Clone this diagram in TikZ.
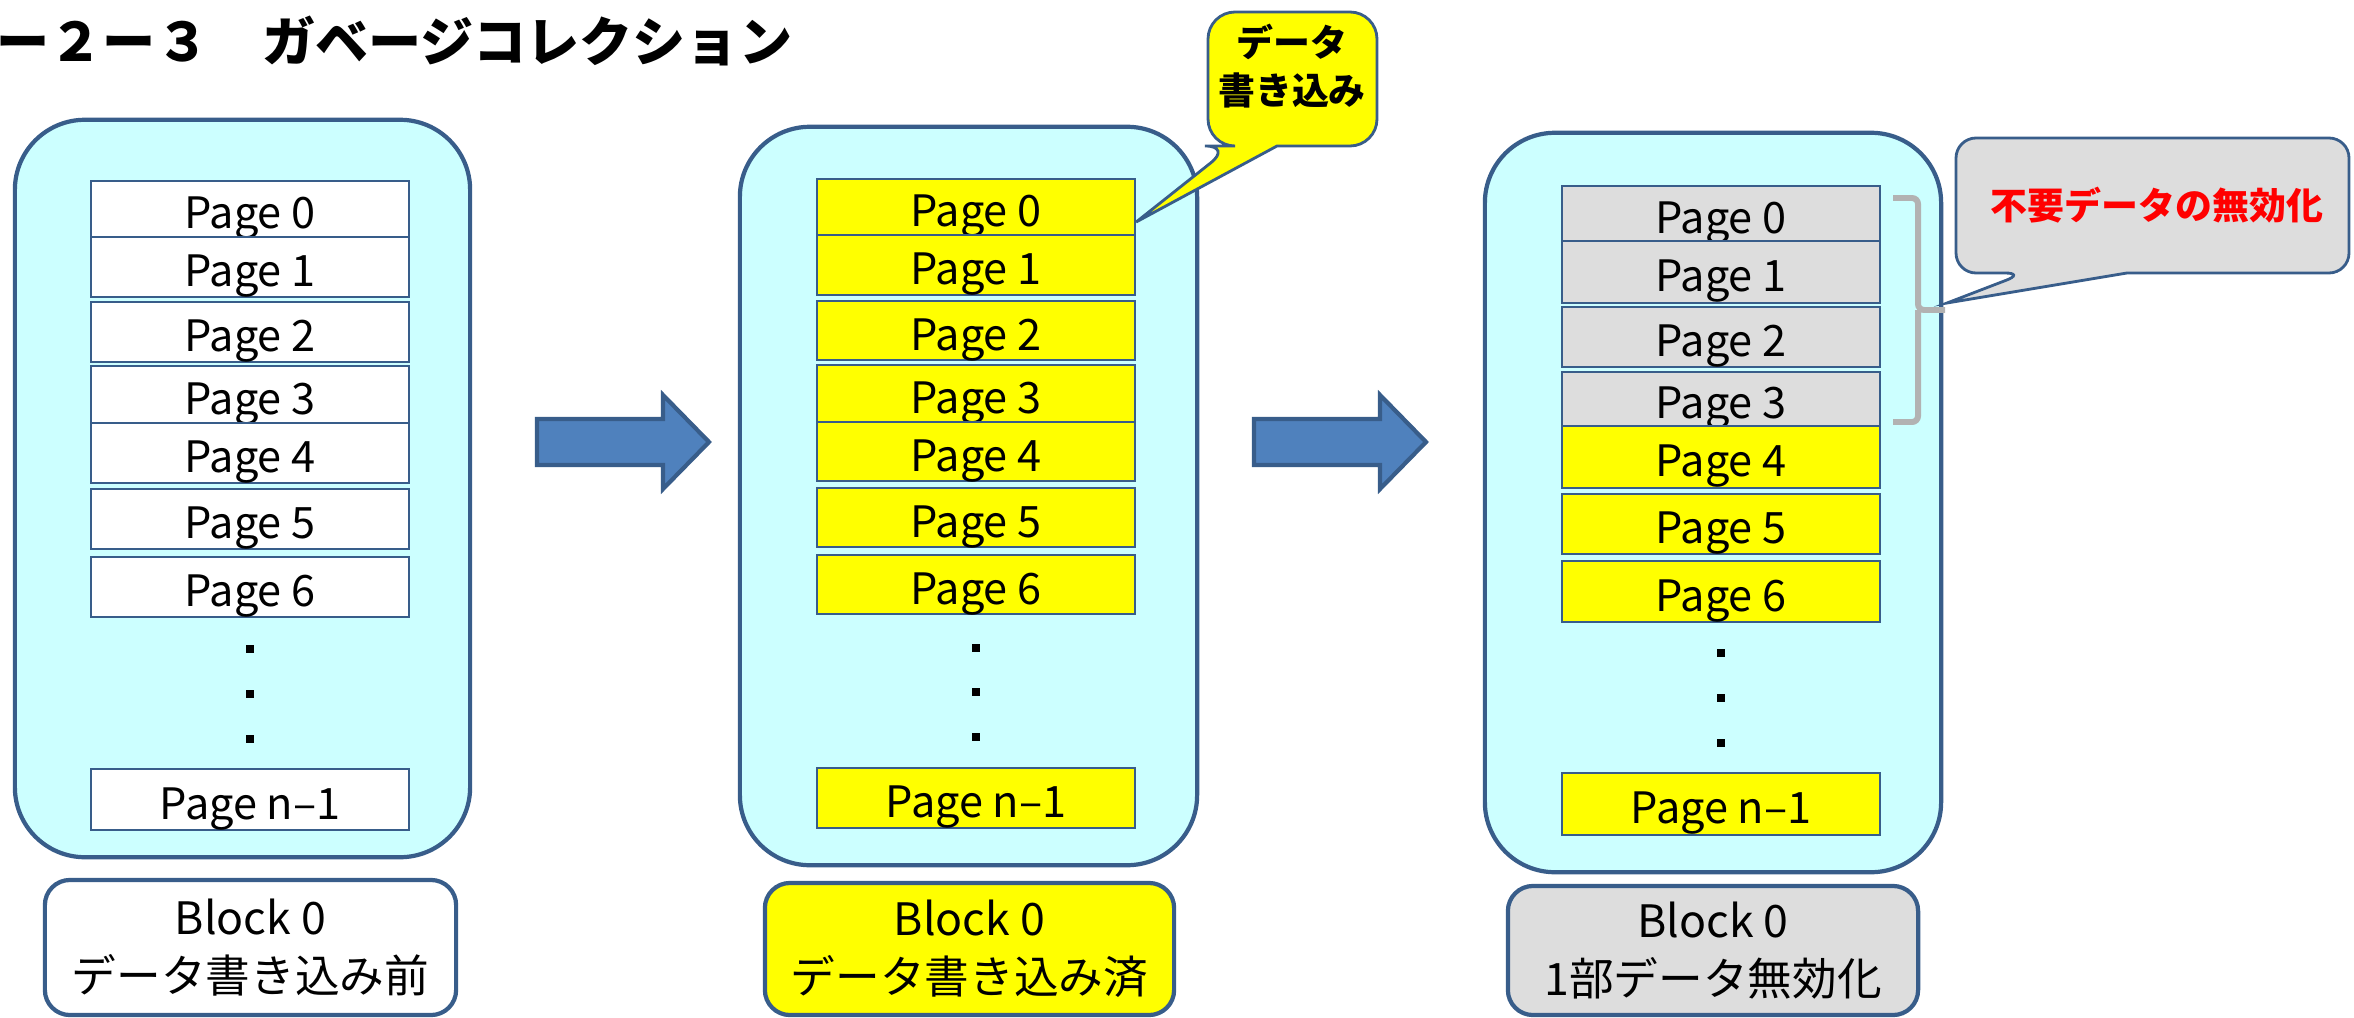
\documentclass[tikz,border=0pt]{standalone}
\usepackage{fontspec}
\setmainfont{Noto Sans CJK JP}
\definecolor{bdr}{HTML}{385D8A}
\definecolor{cyanbg}{HTML}{CCFFFF}
\definecolor{pgyel}{HTML}{FFFF00}
\definecolor{pggray}{HTML}{DDDDDD}
\definecolor{arrblue}{HTML}{4F81BD}
\definecolor{brkgray}{HTML}{B2B2B2}
\begin{document}
\begin{tikzpicture}[x=0.01cm,y=-0.01cm,
		blk/.style={draw=bdr,line width=1.2pt,fill=cyanbg,rounded corners=0.7cm},
		pg/.style={draw=bdr,line width=0.6pt,minimum width=3.18cm,text height=0.396cm,text depth=0pt,font=\fontsize{12.3}{14}\selectfont},
		lbl/.style={draw=bdr,line width=1.2pt,rounded corners=0.25cm,align=center,font=\fontsize{12.7}{16.5}\selectfont},
		dotsq/.style={fill=black,minimum size=0.08cm},
		bigarr/.style={draw=bdr,line width=1.2pt,fill=arrblue},
		callout/.style={draw=bdr,line width=0.8pt},
		calltext/.style={align=center,font=\fontsize{10.5}{13.7}\selectfont\bfseries}]
			\tikzstyle{every node}+=[inner sep=0pt]
			\useasboundingbox (0,0) rectangle (2354,1018);
			\node [anchor=west,font=\fontsize{15.1}{18}\selectfont\bfseries] (title) at (-4,41) {ー２ー３　ガベージコレクション};
			\node [blk,minimum width=4.55cm,minimum height=7.37cm] (blkA) at (242.5,488.5) {};
			\node [pg,fill=white,minimum height=0.56cm] (a0) at (250,209) {Page 0};
			\node [pg,fill=white,minimum height=0.60cm] (a1) at (250,267) {Page 1};
			\node [pg,fill=white,minimum height=0.60cm] (a2) at (250,332) {Page 2};
			\node [pg,fill=white,minimum height=0.57cm] (a3) at (250,394.5) {Page 3};
			\node [pg,fill=white,minimum height=0.60cm] (a4) at (250,453) {Page 4};
			\node [pg,fill=white,minimum height=0.60cm] (a5) at (250,519) {Page 5};
			\node [pg,fill=white,minimum height=0.60cm] (a6) at (250,587) {Page 6};
			\node [dotsq] (ad1) at (250,649) {};
			\node [dotsq] (ad2) at (250,694) {};
			\node [dotsq] (ad3) at (250,739) {};
			\node [pg,fill=white,minimum height=0.61cm] (an) at (250,799.5) {Page n--1};
			\node [lbl,fill=white,minimum width=4.11cm,minimum height=1.35cm] (labA) at (250.5,947.5) {Block 0\\データ書き込み前};
			\draw [bigarr] (537,419) -- (663,419) -- (663,395) -- (709,442) -- (663,489) -- (663,465) -- (537,465) -- cycle;
			\node [blk,minimum width=4.57cm,minimum height=7.38cm] (blkB) at (968.5,496) {};
			\node [pg,fill=pgyel,minimum height=0.56cm] (b0) at (976,207) {Page 0};
			\node [pg,fill=pgyel,minimum height=0.60cm] (b1) at (976,265) {Page 1};
			\node [pg,fill=pgyel,minimum height=0.59cm] (b2) at (976,330.5) {Page 2};
			\node [pg,fill=pgyel,minimum height=0.57cm] (b3) at (976,393.5) {Page 3};
			\node [pg,fill=pgyel,minimum height=0.59cm] (b4) at (976,451.5) {Page 4};
			\node [pg,fill=pgyel,minimum height=0.59cm] (b5) at (976,517.5) {Page 5};
			\node [pg,fill=pgyel,minimum height=0.59cm] (b6) at (976,584.5) {Page 6};
			\node [dotsq] (bd1) at (976,648) {};
			\node [dotsq] (bd2) at (976,692) {};
			\node [dotsq] (bd3) at (976,737) {};
			\node [pg,fill=pgyel,minimum height=0.60cm] (bn) at (976,798) {Page n--1};
			\node [lbl,fill=pgyel,minimum width=4.09cm,minimum height=1.32cm] (labB) at (969.5,949) {Block 0\\データ書き込み済};
			\draw [bigarr] (1254,419) -- (1380,419) -- (1380,395) -- (1426,442) -- (1380,489) -- (1380,465) -- (1254,465) -- cycle;
			\node [blk,minimum width=4.56cm,minimum height=7.39cm] (blkC) at (1713,502.5) {};
			\node [pg,fill=pggray,minimum height=0.55cm] (c0) at (1721,213.5) {Page 0};
			\node [pg,fill=pggray,minimum height=0.62cm] (c1) at (1721,272) {Page 1};
			\node [pg,fill=pggray,minimum height=0.60cm] (c2) at (1721,337) {Page 2};
			\node [pg,fill=pggray,minimum height=0.54cm] (c3) at (1721,399) {Page 3};
			\node [pg,fill=pgyel,minimum height=0.62cm] (c4) at (1721,457) {Page 4};
			\node [pg,fill=pgyel,minimum height=0.60cm] (c5) at (1721,524) {Page 5};
			\node [pg,fill=pgyel,minimum height=0.61cm] (c6) at (1721,591.5) {Page 6};
			\node [dotsq] (cd1) at (1721,653) {};
			\node [dotsq] (cd2) at (1721,698) {};
			\node [dotsq] (cd3) at (1721,743) {};
			\node [pg,fill=pgyel,minimum height=0.62cm] (cn) at (1721,804) {Page n--1};
			\node [lbl,fill=pggray,minimum width=4.10cm,minimum height=1.29cm] (labC) at (1713,950.5) {Block 0\\1部データ無効化};
			\draw [brkgray,line width=1.7pt,rounded corners=0.06cm] (1893,198) -| (1918,310) -- (1945,310) (1918,310) |- (1893,422);
			\coordinate (tipA) at ([yshift=-0.15cm]b0.east);
			\draw [callout,fill=pgyel] (tipA) -- (1277,146) [rounded corners=0.27cm] -| (1377,12) -| (1208,146) -- (1232,146) [sharp corners] -- cycle;
			\node [calltext] (callA) at (1292,66) {データ\\書き込み};
			\coordinate (tipB) at (1947,303);
			\draw [callout,fill=pggray] (tipB) -- (2127,273) [rounded corners=0.2cm] -| (2349,138) -| (1956,273) -- (2025,273) [sharp corners] -- cycle;
			\node [calltext,text=red] (callB) at (2157,205) {不要データの無効化};
		\end{tikzpicture}
\end{document}
